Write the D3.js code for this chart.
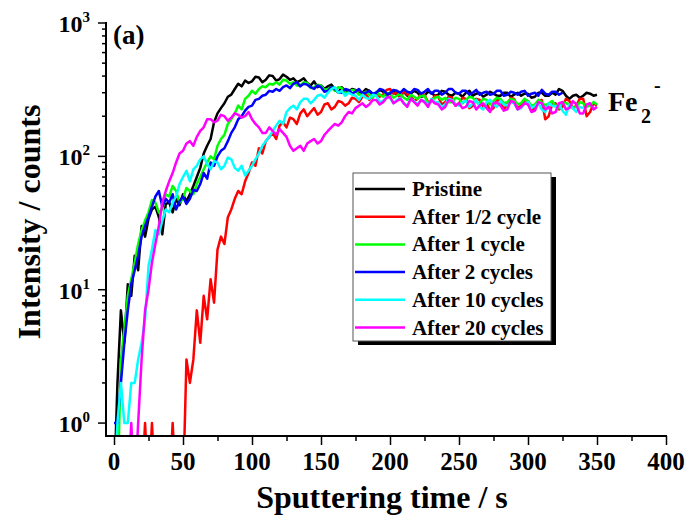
<!DOCTYPE html>
<html>
<head>
<meta charset="utf-8">
<script src="https://cdn.jsdelivr.net/npm/d3@7"></script>
<style>
  body { margin: 0; background: #fff; }
  text { font-family: "Liberation Serif", "Times New Roman", serif; font-weight: bold; fill: #000; }
</style>
</head>
<body>
<svg id="chart" width="689" height="527"></svg>
<script>
// Fe2- depth profiles, one reading every 2.5 s from 0 to 350 s (0 = no counts, null = no data)
const time = d3.range(0, 350.1, 2.5);

const pristine = [
  0,2,7,4,11,9,18,14,30,25,
  34,40,42,35,26,44,45,38,48,43,
  52,46,52,60,70,82,105,120,135,180,
  210,230,250,280,290,320,350,335,370,355,
  365,395,390,360,375,405,400,370,380,410,
  395,375,385,360,370,385,355,340,365,330,
  340,320,335,345,320,300,330,310,305,320,
  315,295,300,320,310,290,295,315,305,285,
  300,310,290,300,305,285,295,310,300,280,
  285,305,300,285,290,310,305,290,285,300,
  295,280,300,310,285,295,300,280,290,305,
  295,285,285,300,300,280,290,300,285,295,
  295,275,280,300,300,285,285,300,290,320,
  310,285,270,285,290,275,285,300,295,285,
  290];
const halfCycle = [
  0,0,0,0,0,0,0,0,0,1,
  0,1,0,0,0,0,0,1,0,0,
  0,3,2,3,7,4,9,6,12,8,
  20,25,22,35,40,48,55,52,65,75,
  90,85,115,105,130,140,150,135,170,180,
  165,195,190,175,210,225,200,215,230,205,
  215,245,250,225,235,260,255,240,250,275,
  270,255,280,295,265,285,300,280,290,315,
  320,295,300,270,310,290,285,260,270,295,
  290,255,260,285,280,245,255,280,275,240,
  250,275,270,230,240,270,265,235,250,220,
  230,265,260,225,245,275,270,230,240,265,
  255,220,230,260,265,190,200,245,250,225,
  235,270,260,230,240,270,270,200,215,250,
  240];
const oneCycle = [
  0,0,3,5,9,12,16,22,28,33,
  38,47,45,38,40,52,50,60,55,45,
  48,58,55,52,62,70,80,90,100,95,
  120,135,145,175,190,210,240,225,270,285,
  310,295,320,335,330,350,345,360,345,375,
  370,350,360,340,340,360,355,325,330,345,
  340,315,320,330,310,330,325,300,300,315,
  310,290,295,305,290,275,305,290,280,300,
  295,275,285,295,275,265,290,280,270,285,
  285,250,260,275,280,265,275,255,255,275,
  270,250,265,280,275,255,250,270,265,245,
  260,275,270,250,255,270,265,245,250,270,
  260,240,245,265,255,240,250,260,240,230,
  255,250,245,230,235,255,250,235,240,255,
  245];
const twoCycles = [
  1,1,2,4,7,11,14,18,25,30,
  35,42,50,55,42,48,45,52,40,46,
  50,44,48,56,55,62,75,68,90,85,
  100,110,115,130,150,165,190,200,220,235,
  240,265,270,285,290,310,305,320,310,330,
  340,325,350,360,335,350,345,330,320,340,
  330,305,310,330,320,305,300,320,315,295,
  305,320,295,300,310,295,300,320,315,295,
  295,315,310,300,320,305,300,320,315,295,
  305,320,295,310,310,290,300,320,320,300,
  295,310,310,290,300,315,290,300,305,290,
  295,310,310,285,290,305,300,290,305,310,
  285,295,300,285,315,295,290,305,305,290,
  300,null,null,null,null,null,null,null,null,null,
  null];
const tenCycles = [
  0,1,2,1,1,2,2,3,4,6,
  15,20,28,26,33,40,38,45,50,62,
  70,78,65,80,85,95,100,88,80,92,
  90,80,85,98,95,82,78,85,72,78,
  85,95,105,120,130,140,155,170,185,175,
  215,230,240,225,255,270,270,250,265,285,
  290,275,300,320,330,300,310,285,300,290,
  285,265,290,275,270,290,285,255,260,280,
  275,250,265,275,250,240,270,260,245,265,
  260,240,270,255,255,235,245,270,265,245,
  240,255,260,235,250,265,235,225,255,265,
  245,235,260,245,240,255,250,225,230,250,
  255,230,240,250,225,215,250,240,235,245,
  220,205,245,230,215,235,230,null,null,null,
  null];
const twentyCycles = [
  0,0,0,0,0,1,0,1,3,7,
  10,16,22,30,45,55,65,75,90,105,
  110,125,130,120,140,155,165,190,190,180,
  185,205,200,185,195,210,205,195,200,215,
  190,175,165,150,150,165,155,145,160,150,
  140,120,110,115,120,110,125,130,135,125,
  130,145,155,165,175,170,180,200,215,210,
  230,240,250,235,245,265,265,245,255,275,
  280,250,260,270,250,235,270,255,240,265,
  255,235,265,250,245,225,235,265,260,240,
  250,230,235,260,255,225,240,250,230,215,
  250,255,240,220,225,260,255,225,235,250,
  245,215,220,255,250,225,235,210,215,250,
  255,225,230,260,245,210,210,245,250,225,
  235];

const seriesNames = ["Pristine", "After 1/2 cycle", "After 1 cycle", "After 2 cycles", "After 10 cycles", "After 20 cycles"];
const seriesColors = ["#000000", "#ff0000", "#00ff00", "#0000ff", "#00ffff", "#ff00ff"];
const seriesValues = [pristine, halfCycle, oneCycle, twoCycles, tenCycles, twentyCycles];

const xTicks = [0, 50, 100, 150, 200, 250, 300, 350, 400];
const yDecades = [1, 10, 100, 1000];

const svg = d3.select("#chart");

const x = d3.scaleLinear().domain([-5.8, 400]).range([106, 666]);
const y = d3.scaleLog().domain([0.8, 1000]).range([436, 23]);

// clip the traces to the plot area
svg.append("clipPath").attr("id", "plotClip")
  .append("rect")
    .attr("x", 106).attr("y", 0)
    .attr("width", 562).attr("height", 436);

const line = d3.line()
  .defined(d => d.v != null)
  .x(d => x(d.t))
  .y(d => y(d.v > 0 ? d.v : 0.3));

const traces = svg.append("g").attr("clip-path", "url(#plotClip)");
seriesValues.forEach((vals, i) => {
  const pts = time.map((t, j) => ({t: t, v: vals[j]}));
  traces.append("path")
    .datum(pts)
    .attr("fill", "none")
    .attr("stroke", seriesColors[i])
    .attr("stroke-width", 2.5)
    .attr("stroke-linejoin", "round")
    .attr("d", line);
});

// x axis: majors every 50, minors every 25
const xAxis = d3.axisBottom(x)
  .tickValues(d3.range(0, 401, 25))
  .tickSize(0)
  .tickFormat("");
const gx = svg.append("g").attr("transform", "translate(0,436)").call(xAxis);
gx.select(".domain").remove();
gx.selectAll(".tick line").remove();
gx.selectAll(".tick").append("line")
  .attr("y2", d => d % 50 === 0 ? 9 : 5)
  .attr("stroke", "#000").attr("stroke-width", 1.5);

svg.append("line")
  .attr("x1", 106).attr("x2", 667)
  .attr("y1", 436).attr("y2", 436)
  .attr("stroke", "#000").attr("stroke-width", 2);

svg.selectAll(".xlab")
  .data(xTicks)
  .join("text")
    .attr("class", "xlab")
    .attr("x", d => x(d))
    .attr("y", 470)
    .attr("text-anchor", "middle")
    .style("font-size", "25px")
    .text(d => d);

// y axis with log minor ticks
const minor = [];
[1, 10, 100].forEach(dec => { for (let k = 1; k < 10; k++) minor.push(dec * k); });
minor.push(1000);
svg.selectAll(".ytick")
  .data(minor)
  .join("line")
    .attr("class", "ytick")
    .attr("x1", d => yDecades.includes(d) ? 98 : 102)
    .attr("x2", 106)
    .attr("y1", d => y(d)).attr("y2", d => y(d))
    .attr("stroke", "#000").attr("stroke-width", 1.5);

svg.append("line")
  .attr("x1", 106).attr("x2", 106)
  .attr("y1", 22).attr("y2", 437)
  .attr("stroke", "#000").attr("stroke-width", 2);

const ylab = svg.selectAll(".ylab")
  .data(yDecades)
  .join("text")
    .attr("class", "ylab")
    .attr("x", 90)
    .attr("y", d => y(d) + 9)
    .attr("text-anchor", "end")
    .style("font-size", "24px");
ylab.append("tspan").text("10");
ylab.append("tspan")
  .attr("dy", -10)
  .style("font-size", "15px")
  .text(d => Math.round(Math.log10(d)));

// titles
svg.append("text")
  .attr("x", 382).attr("y", 508)
  .attr("text-anchor", "middle")
  .style("font-size", "32px")
  .text("Sputtering time / s");

svg.append("text")
  .attr("transform", "translate(40,222) rotate(-90)")
  .attr("text-anchor", "middle")
  .style("font-size", "32px")
  .text("Intensity / counts");

svg.append("text")
  .attr("x", 113).attr("y", 44)
  .style("font-size", "27px")
  .text("(a)");

svg.append("text").attr("x", 608).attr("y", 111).style("font-size", "28px").text("Fe");
svg.append("text").attr("x", 641).attr("y", 123).style("font-size", "20px").text("2");
svg.append("text").attr("x", 654).attr("y", 92).style("font-size", "20px").text("-");

// legend with drop shadow
const lg = svg.append("g");
lg.append("rect")
  .attr("x", 358).attr("y", 177)
  .attr("width", 198).attr("height", 168)
  .attr("fill", "#000");
lg.append("rect")
  .attr("x", 353).attr("y", 173)
  .attr("width", 198).attr("height", 168)
  .attr("fill", "#fff")
  .attr("stroke", "#555").attr("stroke-width", 1);

const rows = lg.selectAll(".row")
  .data(seriesNames)
  .join("g")
    .attr("class", "row")
    .attr("transform", (d, i) => `translate(0,${189 + i * 27.7})`);
rows.append("line")
  .attr("x1", 355).attr("x2", 405)
  .attr("stroke", (d, i) => seriesColors[i])
  .attr("stroke-width", 2.5);
rows.append("text")
  .attr("x", 412).attr("y", 7)
  .style("font-size", "21px")
  .text(d => d);
</script>
</body>
</html>
